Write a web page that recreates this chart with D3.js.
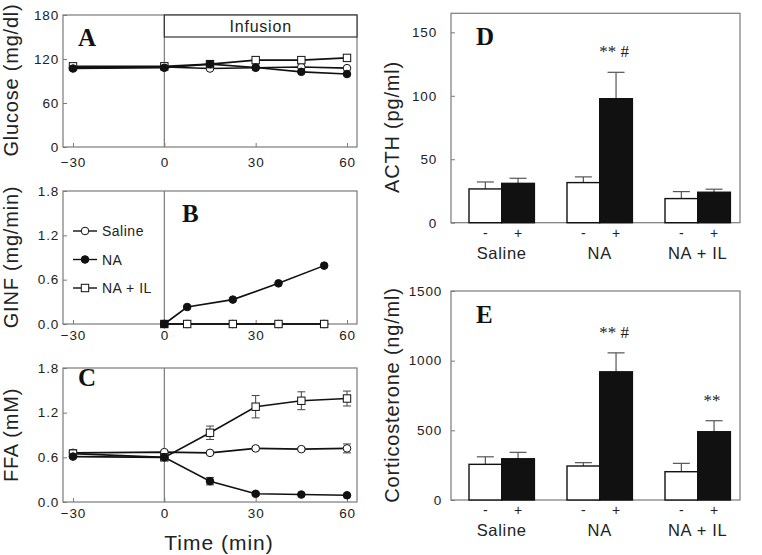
<!DOCTYPE html>
<html><head><meta charset="utf-8">
<script src="https://cdn.jsdelivr.net/npm/d3@7"></script>
<style>body{margin:0;background:#fff}svg{display:block}</style>
</head><body>
<svg id="chart" width="762" height="555"></svg>
<script>
// ---------- DATA ----------
const timeA = [-30, 0, 15, 30, 45, 60];
const glucoseSaline = [108, 109, 107, 108, 109, 107.5];
const glucoseNA = [107, 108, 113, 108.5, 102.5, 99.5];
const glucoseNAIL = [110, 110, 113, 118.5, 118.5, 121.5];

const timeB = [0, 7.5, 22.5, 37.5, 52.5];
const ginfSaline = [0, 0, 0, 0, 0];
const ginfNA = [0, 0.23, 0.33, 0.55, 0.79];
const ginfNAIL = [0, 0, 0, 0, 0];

const timeC = [-30, 0, 15, 30, 45, 60];
const ffaSaline = [0.66, 0.67, 0.66, 0.72, 0.71, 0.72];
const ffaSalineErr = [0.04, 0.02, 0.02, 0.02, 0.02, 0.06];
const ffaNA = [0.61, 0.60, 0.28, 0.11, 0.10, 0.09];
const ffaNAErr = [0.02, 0.02, 0.05, 0.02, 0.01, 0.01];
const ffaNAIL = [0.65, 0.60, 0.93, 1.28, 1.36, 1.39];
const ffaNAILErr = [0.03, 0.02, 0.09, 0.15, 0.12, 0.10];

const xTicks = [-30, 0, 30, 60];
const ticksA = [0, 60, 120, 180];
const ticksBC = [0, 0.6, 1.2, 1.8];

const groups = ["Saline", "NA", "NA + IL"];
const treat = ["-", "+"];
const acthMinus = [26.6, 31.6, 19];
const acthMinusErr = [5.5, 4.5, 5.5];
const acthPlus = [31, 97.7, 24];
const acthPlusErr = [4, 20.8, 2.4];
const acthSig = ["", "** #", ""];
const ticksD = [0, 50, 100, 150];

const corticoMinus = [256, 244, 203];
const corticoMinusErr = [54, 24, 60];
const corticoPlus = [296, 920, 490];
const corticoPlusErr = [46, 136, 79];
const corticoSig = ["", "** #", "**"];
const ticksE = [0, 500, 1000, 1500];

const legendNames = ["Saline", "NA", "NA + IL"];

// ---------- DRAW ----------
const svg = d3.select("#chart");
const gray = "#7a7a7a";
const sans = "'Liberation Sans', Arial, sans-serif";
const serif = "'Liberation Serif', 'Times New Roman', serif";

const xL = d3.scaleLinear().domain([-30, 60]).range([73, 347]);
const frameL = [63, 357];

function frame(x0, x1, y0, y1) {
  svg.append("rect").attr("x", x0).attr("y", y0).attr("width", x1 - x0).attr("height", y1 - y0)
    .attr("fill", "none").attr("stroke", gray).attr("stroke-width", 1.2);
}

function styleTicks(g) {
  g.select(".domain").remove();
  g.selectAll(".tick line").attr("stroke", gray);
  g.selectAll("text").attr("font-family", sans).attr("font-size", 13.5)
    .attr("letter-spacing", 0.8).attr("fill", "#222");
}
function yAxis(y, ticks, x0, fmt, pad) {
  const g = svg.append("g").attr("transform", `translate(${x0},0)`)
    .call(d3.axisLeft(y).tickValues(ticks).tickSize(-4).tickPadding(pad).tickFormat(fmt));
  styleTicks(g);
  return g;
}
function xAxis(x, ticks, y0, pad) {
  const g = svg.append("g").attr("transform", `translate(0,${y0})`)
    .call(d3.axisBottom(x).tickValues(ticks).tickSize(-4).tickPadding(pad));
  styleTicks(g);
}
function yTitle(text, x, y) {
  svg.append("text").attr("transform", `translate(${x},${y}) rotate(-90)`)
    .attr("text-anchor", "middle").attr("font-family", sans).attr("font-size", 20)
    .attr("letter-spacing", 0.8).attr("fill", "#222").text(text);
}
function letter(t, x, y) {
  svg.append("text").attr("x", x).attr("y", y).attr("font-family", serif)
    .attr("font-weight", "bold").attr("font-size", 25).attr("fill", "#111").text(t);
}

function marker(g, type, x, y) {
  if (type === "square") {
    g.append("rect").attr("x", x - 3.7).attr("y", y - 3.7).attr("width", 7.4).attr("height", 7.4)
      .attr("fill", "#fff").attr("stroke", "#111").attr("stroke-width", 1);
  } else {
    g.append("circle").attr("cx", x).attr("cy", y).attr("r", 3.8)
      .attr("fill", type === "filled" ? "#111" : "#fff").attr("stroke", "#111").attr("stroke-width", 1);
  }
}

function series(y, xs, vals, errs, type) {
  const g = svg.append("g");
  const pts = xs.map((t, i) => [xL(t), y(vals[i])]);
  g.append("path").attr("d", d3.line()(pts)).attr("fill", "none").attr("stroke", "#111").attr("stroke-width", 1.6);
  if (errs) {
    xs.forEach((t, i) => {
      const cx = xL(t), y1 = y(vals[i] + errs[i]), y2 = y(vals[i] - errs[i]);
      g.append("line").attr("x1", cx).attr("x2", cx).attr("y1", y1).attr("y2", y2).attr("stroke", "#444").attr("stroke-width", 1);
      [y1, y2].forEach(yy => g.append("line").attr("x1", cx - 4).attr("x2", cx + 4).attr("y1", yy).attr("y2", yy).attr("stroke", "#444").attr("stroke-width", 1));
    });
  }
  xs.forEach((t, i) => marker(g, type, xL(t), y(vals[i])));
}

function zeroLine(y0, y1) {
  svg.append("line").attr("x1", xL(0)).attr("x2", xL(0)).attr("y1", y0).attr("y2", y1)
    .attr("stroke", gray).attr("stroke-width", 1.2);
}

// Panel A
const yA = d3.scaleLinear().domain([0, 180]).range([147, 15]);
frame(frameL[0], frameL[1], 15, 147);
zeroLine(15, 147);
svg.append("rect").attr("x", xL(0)).attr("y", 15).attr("width", frameL[1] - xL(0)).attr("height", 22)
  .attr("fill", "#fff").attr("stroke", "#333").attr("stroke-width", 1.2);
svg.append("text").attr("x", (xL(0) + frameL[1]) / 2).attr("y", 31.5).attr("text-anchor", "middle")
  .attr("font-family", sans).attr("font-size", 16).attr("letter-spacing", 0.8).attr("fill", "#222").text("Infusion");
yAxis(yA, ticksA, 63, d3.format("d"), 4);
xAxis(xL, xTicks, 147, 10);
series(yA, timeA, glucoseSaline, null, "open");
series(yA, timeA, glucoseNAIL, null, "square");
series(yA, timeA, glucoseNA, null, "filled");
letter("A", 78, 46);
yTitle("Glucose (mg/dl)", 18, 80);

// Panel B
const yB = d3.scaleLinear().domain([0, 1.8]).range([324, 191]);
frame(frameL[0], frameL[1], 191, 324);
zeroLine(191, 324);
yAxis(yB, ticksBC, 63, d3.format(".1f"), 4);
xAxis(xL, xTicks, 324, 6);
series(yB, timeB, ginfSaline, null, "open");
series(yB, timeB, ginfNAIL, null, "square");
series(yB, timeB, ginfNA, null, "filled");
// overlapping start point appears solid
svg.append("rect").attr("x", xL(0) - 3.7).attr("y", yB(0) - 3.7).attr("width", 7.4).attr("height", 7.4).attr("fill", "#111");
letter("B", 182, 222);
yTitle("GINF (mg/min)", 18, 257);
// legend
const legTypes = ["open", "filled", "square"];
legendNames.forEach((n, i) => {
  const ly = 231 + i * 28.5;
  const lg = svg.append("g");
  lg.append("line").attr("x1", 73).attr("x2", 97).attr("y1", ly).attr("y2", ly).attr("stroke", "#111").attr("stroke-width", 1.4);
  marker(lg, legTypes[i], 85, ly);
  lg.append("text").attr("x", 102).attr("y", ly + 5).attr("font-family", sans).attr("font-size", 14)
    .attr("letter-spacing", 0.5).attr("fill", "#222").text(n);
});

// Panel C
const yC = d3.scaleLinear().domain([0, 1.8]).range([502, 368]);
frame(frameL[0], frameL[1], 368, 502);
zeroLine(368, 502);
yAxis(yC, ticksBC, 63, d3.format(".1f"), 4);
xAxis(xL, xTicks, 502, 6);
series(yC, timeC, ffaSaline, ffaSalineErr, "open");
series(yC, timeC, ffaNAIL, ffaNAILErr, "square");
series(yC, timeC, ffaNA, ffaNAErr, "filled");
letter("C", 78, 386);
yTitle("FFA (mM)", 18, 435);
svg.append("text").attr("x", 219).attr("y", 550).attr("text-anchor", "middle")
  .attr("font-family", sans).attr("font-size", 21).attr("letter-spacing", 1).attr("fill", "#222").text("Time (min)");

// Bar panels
const xG = d3.scaleLinear().domain([0, 2]).range([501.7, 697.7]);
const barW = 32.7;
function barPanel(y, y0, y1, minus, minusErr, plus, plusErr, sig, ticks, pad, title, titleY, let, letY) {
  frame(451, 740, y1, y0);
  yAxis(y, ticks, 451, d3.format("d"), pad);
  const g = svg.append("g");
  groups.forEach((grp, i) => {
    const c = xG(i);
    [[minus[i], minusErr[i], c - barW, "#fff"], [plus[i], plusErr[i], c, "#111"]].forEach(([v, e, bx, fill]) => {
      const bc = bx + barW / 2;
      g.append("line").attr("x1", bc).attr("x2", bc).attr("y1", y(v)).attr("y2", y(v + e)).attr("stroke", "#555").attr("stroke-width", 1.2);
      g.append("line").attr("x1", bc - 8.5).attr("x2", bc + 8.5).attr("y1", y(v + e)).attr("y2", y(v + e)).attr("stroke", "#555").attr("stroke-width", 1.2);
      g.append("rect").attr("x", bx).attr("y", y(v)).attr("width", barW).attr("height", y(0) - y(v))
        .attr("fill", fill).attr("stroke", "#111").attr("stroke-width", 1.4);
    });
    if (sig[i]) {
      g.append("text").attr("x", c + barW / 2 - 2).attr("y", y(plus[i] + plusErr[i]) - 15).attr("text-anchor", "middle")
        .attr("font-family", serif).attr("font-size", 17).attr("fill", "#222").text(sig[i]);
    }
    treat.forEach((t, j) => {
      g.append("text").attr("x", c + (j === 0 ? -barW / 2 : barW / 2)).attr("y", y0 + 15).attr("text-anchor", "middle")
        .attr("font-family", sans).attr("font-size", 14).attr("fill", "#222").text(t);
    });
    g.append("text").attr("x", c).attr("y", y0 + 36).attr("text-anchor", "middle")
      .attr("font-family", sans).attr("font-size", 16.5).attr("letter-spacing", 0.7).attr("fill", "#222").text(grp);
  });
  yTitle(title, 399, titleY);
  letter(let, 476, letY);
}
const yD = d3.scaleLinear().domain([0, 165]).range([222.7, 13.3]);
barPanel(yD, 222.7, 13.3, acthMinus, acthMinusErr, acthPlus, acthPlusErr, acthSig, ticksD, 14, "ACTH (pg/ml)", 127, "D", 45);
const yE = d3.scaleLinear().domain([0, 1500]).range([500, 291]);
barPanel(yE, 500, 291, corticoMinus, corticoMinusErr, corticoPlus, corticoPlusErr, corticoSig, ticksE, 9, "Corticosterone (ng/ml)", 395, "E", 323);
</script>
</body></html>
